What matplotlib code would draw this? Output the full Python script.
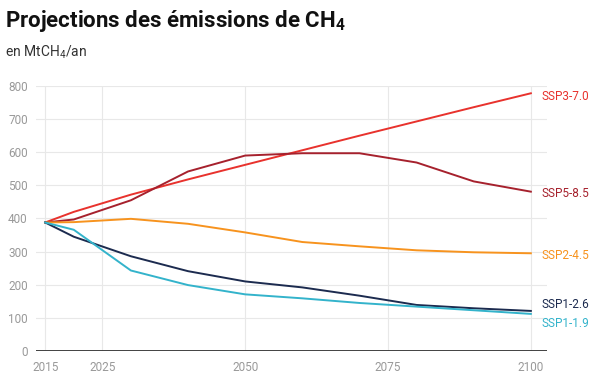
import matplotlib
matplotlib.use("Agg")
import matplotlib.pyplot as plt

plt.rcParams['font.family'] = ['Roboto', 'DejaVu Sans']
plt.rcParams['mathtext.fontset'] = 'custom'
plt.rcParams['mathtext.rm'] = 'Roboto'
plt.rcParams['mathtext.bf'] = 'Roboto:bold'

years = [2015, 2020, 2030, 2040, 2050, 2060, 2070, 2080, 2090, 2100]

ssp370 = [388, 420, 472, 518, 562, 606, 650, 693, 736, 778]
ssp585 = [388, 397, 455, 542, 590, 597, 597, 569, 512, 481]
ssp245 = [388, 389, 399, 384, 358, 329, 316, 304, 298, 295]
ssp126 = [388, 345, 286, 241, 210, 192, 167, 139, 129, 121]
ssp119 = [388, 366, 243, 199, 171, 159, 145, 134, 123, 112]

series = [
    ('SSP3-7.0', ssp370, '#e8322d'),
    ('SSP5-8.5', ssp585, '#a6212d'),
    ('SSP2-4.5', ssp245, '#f7931e'),
    ('SSP1-2.6', ssp126, '#1c2b4f'),
    ('SSP1-1.9', ssp119, '#33b3cb'),
]

x_ticks = [2015, 2025, 2050, 2075, 2100]
y_ticks = [0, 100, 200, 300, 400, 500, 600, 700, 800]

# small nudges so the end labels don't collide
label_shift = {'SSP3-7.0': -10, 'SSP5-8.5': -7, 'SSP2-4.5': -7,
               'SSP1-2.6': 18, 'SSP1-1.9': -30}

fig = plt.figure(figsize=(6.11, 3.90), dpi=100)
ax = fig.add_axes([0.059, 0.1, 0.836, 0.6795])

for name, vals, col in series:
    ax.plot(years, vals, color=col, lw=1.4, solid_joinstyle='round', zorder=3)
    ax.text(2101.8, vals[-1] + label_shift[name], name, color=col,
            fontsize=8.5, va='center', ha='left')

ax.set_xlim(2013.4, 2102.8)
ax.set_ylim(0, 800)
ax.set_xticks(x_ticks)
ax.set_yticks(y_ticks)
ax.grid(True, color='#e8e8e8', lw=0.8, zorder=0)
ax.set_axisbelow(True)
for s in ax.spines.values():
    s.set_visible(False)
ax.axhline(0, color='#333333', lw=1.3, zorder=4)
ax.tick_params(length=0, labelsize=8.5, labelcolor='#999999')
ax.tick_params(axis='x', pad=7)
ax.tick_params(axis='y', pad=6)

fig.text(0.008, 0.945, r'Projections des émissions de CH$_\mathbf{4}$',
         fontsize=16, fontweight='bold', color='#111111', va='center')
fig.text(0.008, 0.865, r'en MtCH$_4$/an', fontsize=10, color='#333333',
         va='center')

fig.savefig('out.png', dpi=100)
